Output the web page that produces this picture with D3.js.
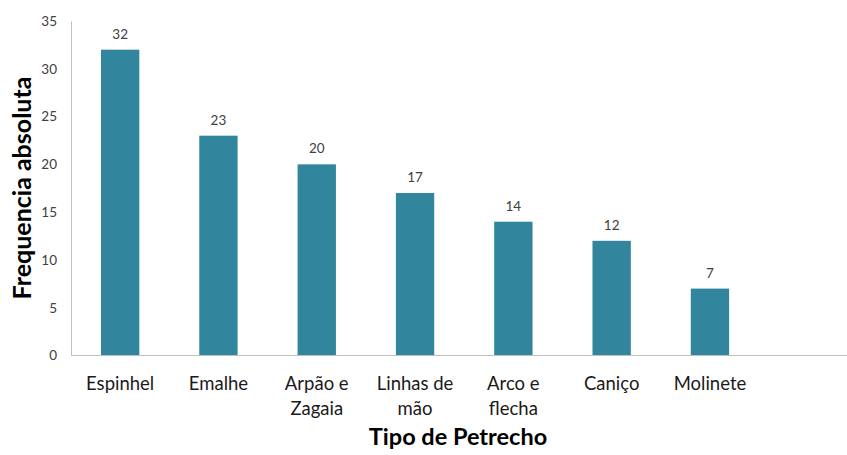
<!DOCTYPE html>
<html><head><meta charset="utf-8">
<script src="https://cdn.jsdelivr.net/npm/d3@7"></script>
<style>body{margin:0;background:#fff}svg{display:block}</style>
</head><body>
<svg id="c" width="847" height="455"></svg>
<script>
const categories = [["Espinhel"],["Emalhe"],["Arpão e","Zagaia"],["Linhas de","mão"],["Arco e","flecha"],["Caniço"],["Molinete"]];
const values = [32, 23, 20, 17, 14, 12, 7];
const yTicks = [0, 5, 10, 15, 20, 25, 30, 35];
const xTitle = "Tipo de Petrecho";
const yTitle = "Frequencia absoluta";

(function () {
const W = 847, H = 455;
const mLeft = 71, mTop = 21, mBottom = 355.5;
const step = 98.3;
const font = "Lato, 'Open Sans', sans-serif";
const svg = d3.select("#c");
const keys = categories.map(c => c.join(" "));

const x = d3.scaleBand().domain(keys).range([mLeft, mLeft + step * keys.length])
  .paddingInner(0.61).paddingOuter(0.305);
const y = d3.scaleLinear().domain([0, 35]).range([mBottom, mTop]);

// y axis
const ya = svg.append("g").attr("transform", `translate(${mLeft},0)`)
  .call(d3.axisLeft(y).tickValues(yTicks).tickSize(0).tickPadding(14));
ya.select(".domain").attr("stroke", "#bfbfbf");
ya.selectAll("text").attr("font-family", font).attr("font-size", 13.5).attr("fill", "#404040");

// bars
svg.append("g").selectAll("rect").data(values).join("rect")
  .attr("x", (d, i) => x(keys[i]))
  .attr("y", d => y(d))
  .attr("width", x.bandwidth())
  .attr("height", d => y(0) - y(d))
  .attr("fill", "#31859c");

// data labels
svg.append("g").selectAll("text").data(values).join("text")
  .attr("x", (d, i) => x(keys[i]) + x.bandwidth() / 2)
  .attr("y", d => y(d) - 11)
  .attr("text-anchor", "middle")
  .attr("font-family", font).attr("font-size", 13.5).attr("fill", "#404040")
  .text(d => d);

// x axis
const xa = svg.append("g").attr("transform", `translate(0,${mBottom})`)
  .call(d3.axisBottom(x).tickSize(0).tickFormat(""));
xa.select(".domain").remove();
svg.append("line").attr("x1", mLeft).attr("x2", W).attr("y1", mBottom).attr("y2", mBottom)
  .attr("stroke", "#bfbfbf");
xa.selectAll(".tick").each(function(d, i) {
  const t = d3.select(this).append("text")
    .attr("text-anchor", "middle").attr("font-family", font).attr("font-size", 18.5)
    .attr("fill", "#1a1a1a");
  categories[i].forEach((line, j) => {
    t.append("tspan").attr("x", 0).attr("y", 34 + j * 25).text(line);
  });
});

// titles
svg.append("text").attr("x", 458).attr("y", 445).attr("text-anchor", "middle")
  .attr("font-family", font).attr("font-weight", "bold").attr("font-size", 23.5)
  .attr("fill", "#000").text(xTitle);
svg.append("text").attr("transform", "translate(31,188) rotate(-90)").attr("text-anchor", "middle")
  .attr("font-family", font).attr("font-weight", "bold").attr("font-size", 25)
  .attr("fill", "#000").text(yTitle);
})();
</script>
</body></html>
